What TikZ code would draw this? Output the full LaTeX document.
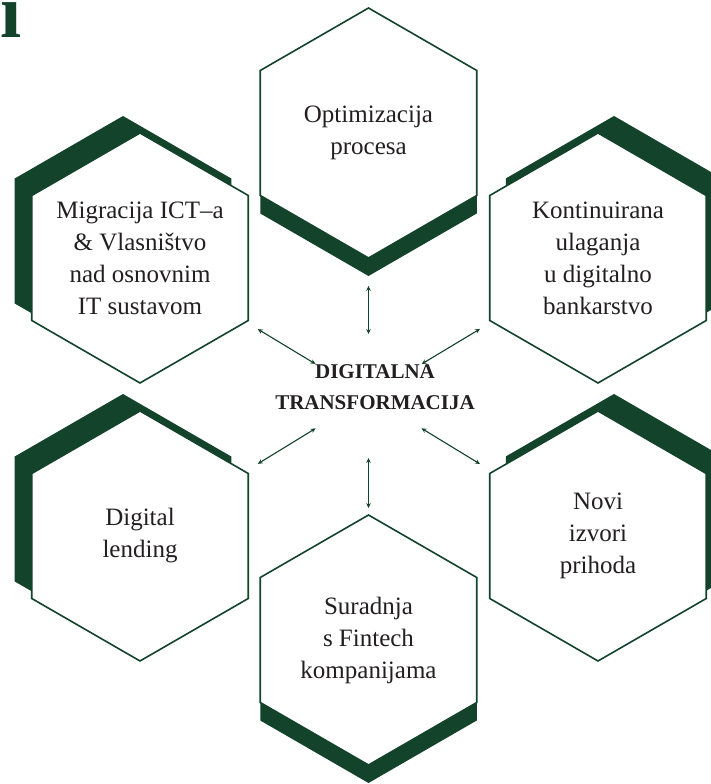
\documentclass[tikz,border=0pt]{standalone}
\usepackage{fontspec}
\setmainfont{Liberation Serif}
\usepackage{tikz}
\usetikzlibrary{arrows.meta,shapes.geometric,shadows}
\definecolor{zelenaTamna}{HTML}{13432A}
\definecolor{tekstTamni}{HTML}{231F20}

\begin{document}
\begin{tikzpicture}[
        x=1pt, y=1pt,
        hexbox/.style={regular polygon, regular polygon sides=6, shape border rotate=30, minimum size=250pt, inner sep=0pt, draw=zelenaTamna, line width=1.6pt, fill=white},
        hextekst/.style={align=center, text=tekstTamni, inner sep=0pt, font=\fontsize{25}{32}\selectfont},
        sjenaGL/.style={general shadow={shadow xshift=-17pt, shadow yshift=17pt, fill=zelenaTamna}},
        sjenaGD/.style={general shadow={shadow xshift=16pt, shadow yshift=17pt, fill=zelenaTamna}},
        sjenaDolje/.style={general shadow={shadow yshift=-18pt, fill=zelenaTamna}},
        veza/.style={{Stealth[length=5pt,width=4.5pt]}-{Stealth[length=5pt,width=4.5pt]}, line width=1.1pt, draw=zelenaTamna, shorten <=62pt}
    ]
        \useasboundingbox (0,0) rectangle (710,784);

        % Ostatak naslova (odrezan rubom slike)
        \node[font=\fontsize{76}{76}\selectfont\bfseries, text=zelenaTamna, anchor=base east, inner sep=0pt] (naslov) at (22,746) {i};

        % Sredisnja tocka i tekst
        \coordinate (sred) at (368.5,388);
        \node[font=\fontsize{21}{31}\selectfont\bfseries, text=tekstTamni, align=center] (dt) at (375,397) {DIGITALNA\\TRANSFORMACIJA};

        % Sesterokuti oko sredine
        \node[hexbox, sjenaDolje] (opt) at (368.5,651) {};
        \node[hexbox, sjenaGL] (mig) at (140,526) {};
        \node[hexbox, sjenaGD] (kon) at (598,526) {};
        \node[hexbox, sjenaGL] (len) at (140,248) {};
        \node[hexbox, sjenaGD] (pri) at (598,248) {};
        \node[hexbox, sjenaDolje] (fin) at (368.5,144) {};

        % Tekst u sesterokutima
        \node[hextekst] (optT) at (opt) {Optimizacija\\procesa};
        \node[hextekst] (migT) at (mig) {Migracija ICT–a\\\& Vlasništvo\\nad osnovnim\\IT sustavom};
        \node[hextekst] (konT) at (kon) {Kontinuirana\\ulaganja\\u digitalno\\bankarstvo};
        \node[hextekst] (lenT) at (len) {Digital\\lending};
        \node[hextekst] (priT) at (pri) {Novi\\izvori\\prihoda};
        \node[hextekst] (finT) at (fin) {Suradnja\\s Fintech\\kompanijama};

        % Dvostruke strelice od sredine prema sesterokutima
        \draw[veza, shorten >=27pt] (sred) -- (opt);
        \draw[veza, shorten >=13pt] (sred) -- (mig);
        \draw[veza, shorten >=13pt] (sred) -- (kon);
        \draw[veza, shorten >=14pt] (sred) -- (len);
        \draw[veza, shorten >=14pt] (sred) -- (pri);
        \draw[veza, shorten >=6pt] (sred) -- (fin);
    \end{tikzpicture}
\end{document}
